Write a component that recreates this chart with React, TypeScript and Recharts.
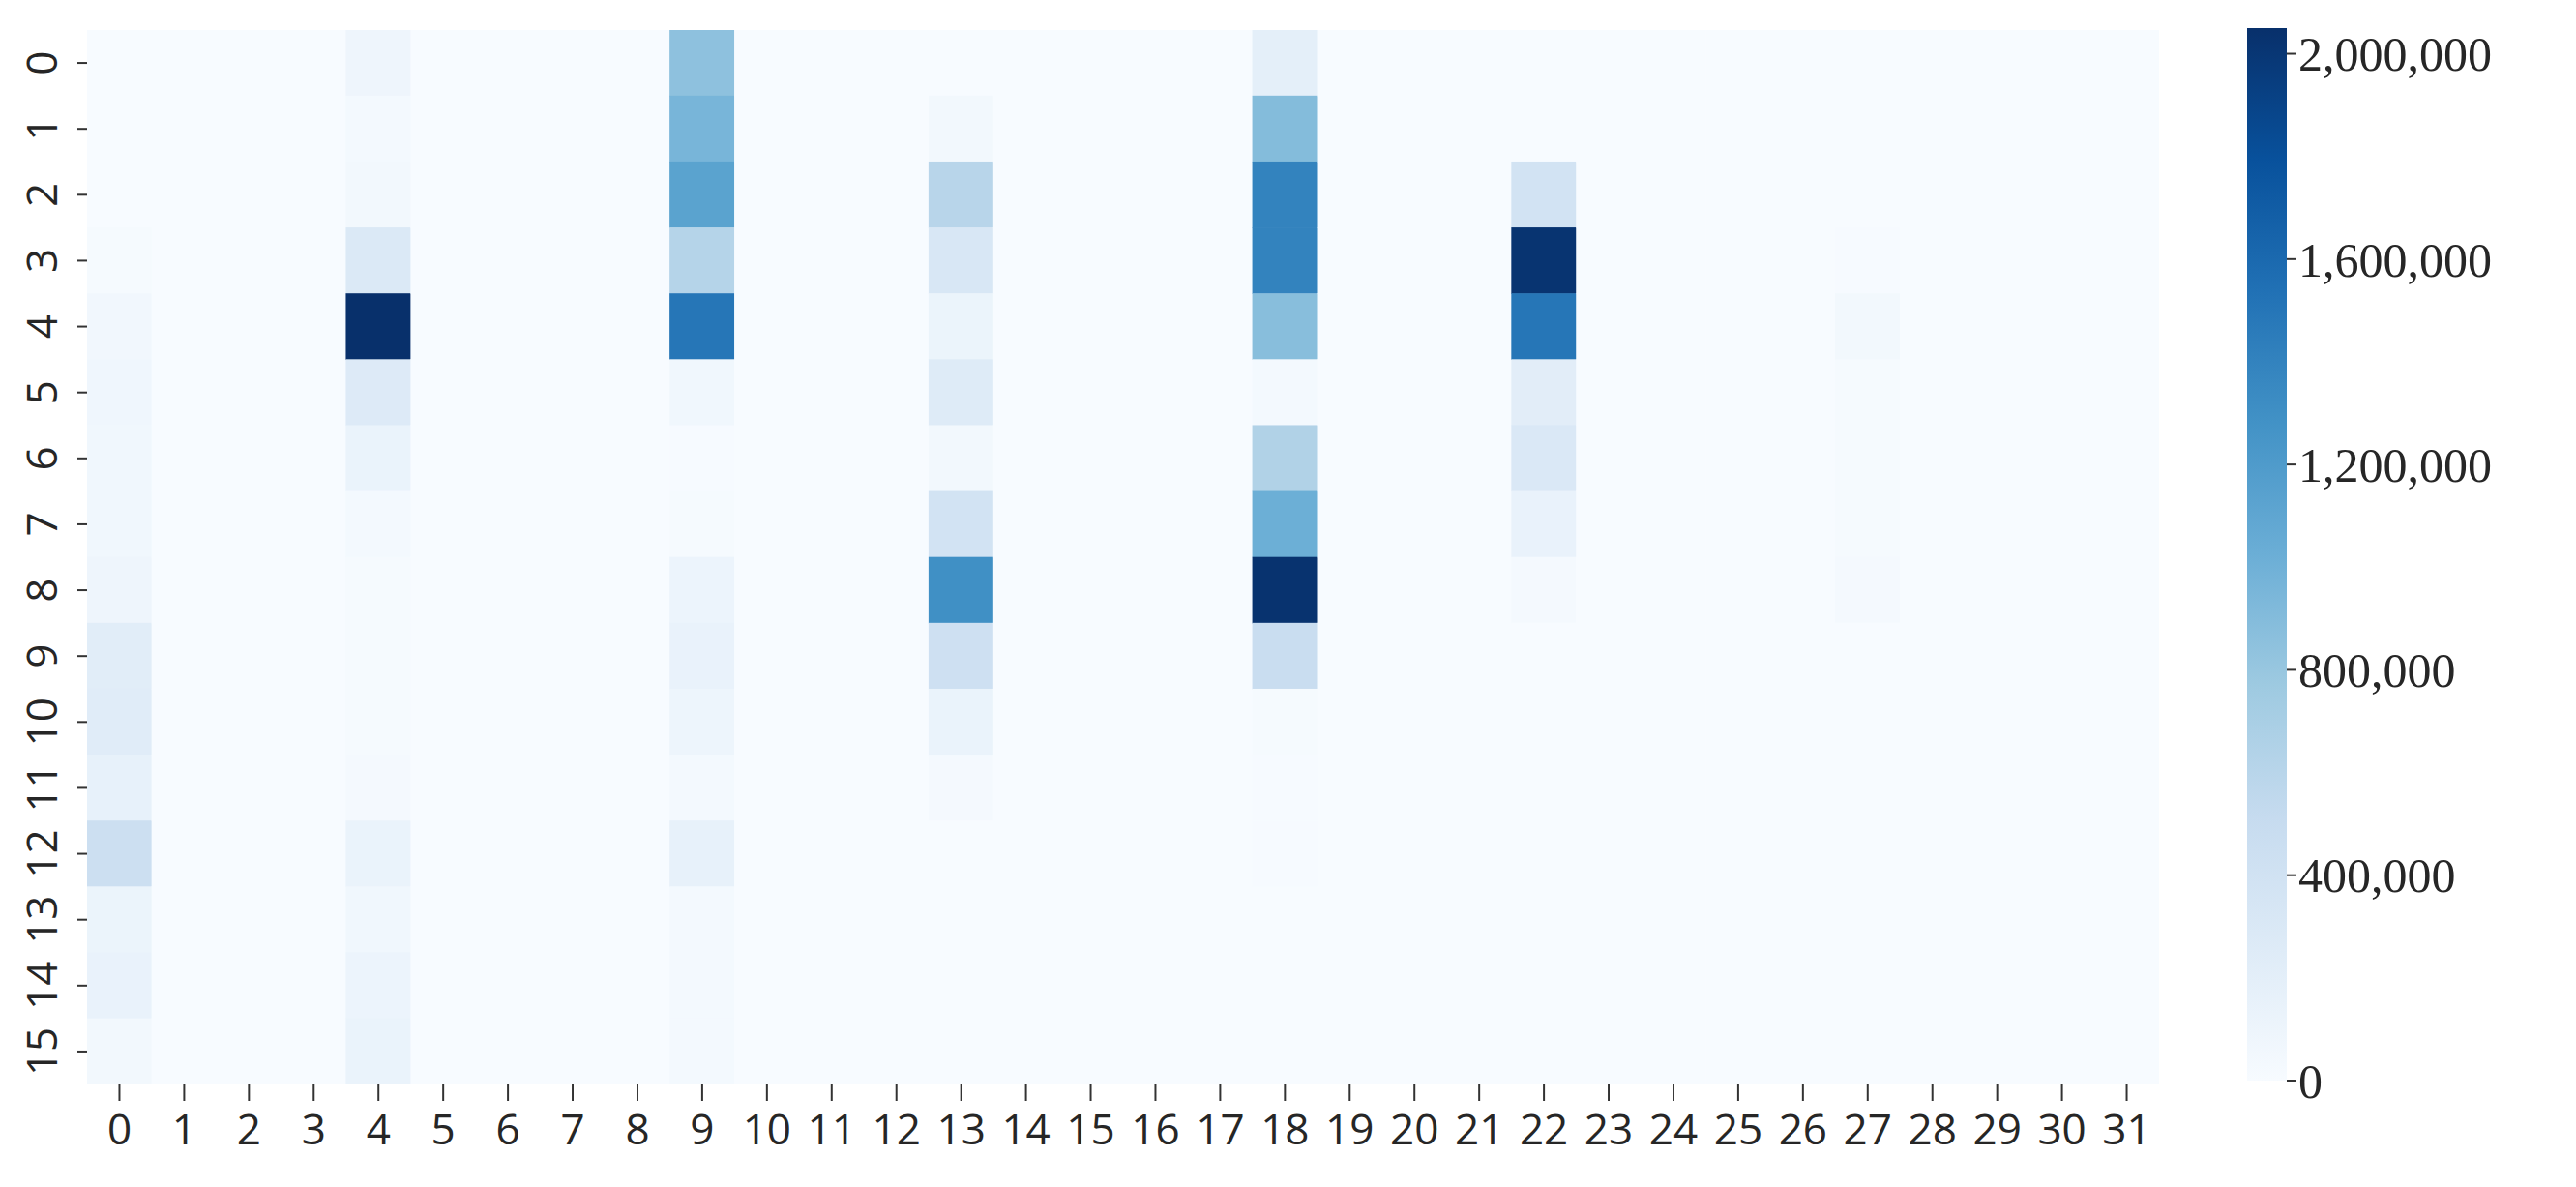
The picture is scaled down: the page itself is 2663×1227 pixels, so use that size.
import { ScatterChart, Scatter, XAxis, YAxis, BarChart, Bar } from 'recharts';

// column / row labels of the heatmap
const xLabels = Array.from({ length: 32 }, (_, i) => i);
const yLabels = Array.from({ length: 16 }, (_, i) => i);

// values per column (rows 0..15), columns not listed are all zero
const col0 = [0, 0, 5000, 20000, 60000, 80000, 70000, 70000, 90000, 230000, 240000, 160000, 450000, 120000, 140000, 50000];
const col4 = [90000, 40000, 50000, 290000, 2050000, 270000, 130000, 40000, 20000, 20000, 20000, 30000, 130000, 70000, 110000, 130000];
const col9 = [850000, 960000, 1130000, 620000, 1500000, 70000, 10000, 20000, 110000, 140000, 100000, 40000, 160000, 40000, 40000, 40000];
const col13 = [0, 50000, 600000, 320000, 120000, 260000, 50000, 380000, 1300000, 430000, 130000, 30000, 0, 0, 0, 0];
const col18 = [190000, 900000, 1400000, 1400000, 880000, 40000, 650000, 1020000, 2030000, 480000, 20000, 10000, 10000, 0, 0, 0];
const col22 = [0, 0, 380000, 2020000, 1500000, 220000, 300000, 140000, 30000, 0, 0, 0, 0, 0, 0, 0];
const col27 = [0, 0, 0, 15000, 50000, 20000, 20000, 20000, 30000, 0, 0, 0, 0, 0, 0, 0];

const filledColumns: Record<number, number[]> = { 0: col0, 4: col4, 9: col9, 13: col13, 18: col18, 22: col22, 27: col27 };

const colorTicks = [0, 400000, 800000, 1200000, 1600000, 2000000];
const VMAX = 2050000;

const BLUES = ['#f7fbff', '#deebf7', '#c6dbef', '#9ecae1', '#6baed6', '#4292c6', '#2171b5', '#08519c', '#08306b'];

const hexToRgb = (h: string) => [1, 3, 5].map((i) => parseInt(h.slice(i, i + 2), 16));

const blues = (v: number) => {
    const t = Math.max(0, Math.min(1, v / VMAX)) * (BLUES.length - 1);
    const i = Math.min(Math.floor(t), BLUES.length - 2);
    const f = t - i;
    const a = hexToRgb(BLUES[i]);
    const b = hexToRgb(BLUES[i + 1]);
    const c = a.map((av, k) => Math.round(av + (b[k] - av) * f));
    return `rgb(${c[0]},${c[1]},${c[2]})`;
};

const cells = xLabels.flatMap((x) =>
    yLabels.map((y) => ({ x, y, v: filledColumns[x] ? filledColumns[x][y] : 0 }))
);

const CHART_W = 2260;
const CHART_H = 1227;
const MARGIN = { top: 31, right: 28, left: 0, bottom: 0 };
const Y_AXIS_W = 90;
const X_AXIS_H = 106;
const plotW = CHART_W - MARGIN.left - MARGIN.right - Y_AXIS_W;
const plotH = CHART_H - MARGIN.top - MARGIN.bottom - X_AXIS_H;
const cellW = plotW / xLabels.length;
const cellH = plotH / yLabels.length;

const LABEL_FONT = '"Open Sans", "Noto Sans", sans-serif';

const Cell = (props: any) => {
    const { cx, cy, payload } = props;
    return (
        <rect
            x={cx - cellW / 2 - 0.3}
            y={cy - cellH / 2 - 0.3}
            width={cellW + 0.6}
            height={cellH + 0.6}
            fill={blues(payload.v)}
        />
    );
};

const YTick = (props: any) => {
    const { x, y, payload } = props;
    const tx = x - 36;
    return (
        <text
            x={tx}
            y={y}
            transform={`rotate(-90, ${tx}, ${y})`}
            textAnchor="middle"
            dominantBaseline="central"
            fontSize={44}
            fontFamily={LABEL_FONT}
            fill="#262626"
        >
            {payload.value}
        </text>
    );
};

const colorbarData = [{ name: 'scale', v: VMAX }];

const App = () => {
    return (
        <div style={{ position: 'absolute', left: 0, top: 0, width: 2663, height: 1227, background: '#fff' }}>
            <ScatterChart width={CHART_W} height={CHART_H} margin={MARGIN}>
                <XAxis
                    type="number"
                    dataKey="x"
                    domain={[-0.5, 31.5]}
                    ticks={xLabels}
                    interval={0}
                    height={X_AXIS_H}
                    axisLine={false}
                    tickSize={17}
                    tickMargin={14}
                    tickLine={{ stroke: '#333', strokeWidth: 2 }}
                    tick={{ fontSize: 44, fill: '#262626', fontFamily: LABEL_FONT }}
                    allowDataOverflow
                />
                <YAxis
                    type="number"
                    dataKey="y"
                    domain={[-0.5, 15.5]}
                    reversed
                    ticks={yLabels}
                    interval={0}
                    width={Y_AXIS_W}
                    axisLine={false}
                    tickSize={10}
                    tickLine={{ stroke: '#333', strokeWidth: 2 }}
                    tick={<YTick />}
                    allowDataOverflow
                />
                <Scatter data={cells} shape={<Cell />} isAnimationActive={false} />
            </ScatterChart>
            <div style={{ position: 'absolute', left: 2300, top: 0 }}>
                <BarChart
                    width={363}
                    height={1227}
                    data={colorbarData}
                    margin={{ top: 29, right: 0, left: 23, bottom: 110 }}
                    barCategoryGap={0}
                >
                    <defs>
                        <linearGradient id="bluesGrad" x1="0" y1="0" x2="0" y2="1">
                            {BLUES.slice().reverse().map((c, i) => (
                                <stop key={c} offset={`${(i / (BLUES.length - 1)) * 100}%`} stopColor={c} />
                            ))}
                        </linearGradient>
                    </defs>
                    <XAxis dataKey="name" hide />
                    <YAxis
                        orientation="right"
                        domain={[0, VMAX]}
                        ticks={colorTicks}
                        interval={0}
                        width={299}
                        axisLine={false}
                        tickSize={10}
                        tickLine={{ stroke: '#333', strokeWidth: 2 }}
                        tickFormatter={(v: number) => v.toLocaleString('en-US')}
                        tick={{ fontSize: 50, fill: '#262626', fontFamily: 'Liberation Serif', textAnchor: 'start' }}
                    />
                    <Bar dataKey="v" fill="url(#bluesGrad)" isAnimationActive={false} />
                </BarChart>
            </div>
        </div>
    );
};

export default App;
